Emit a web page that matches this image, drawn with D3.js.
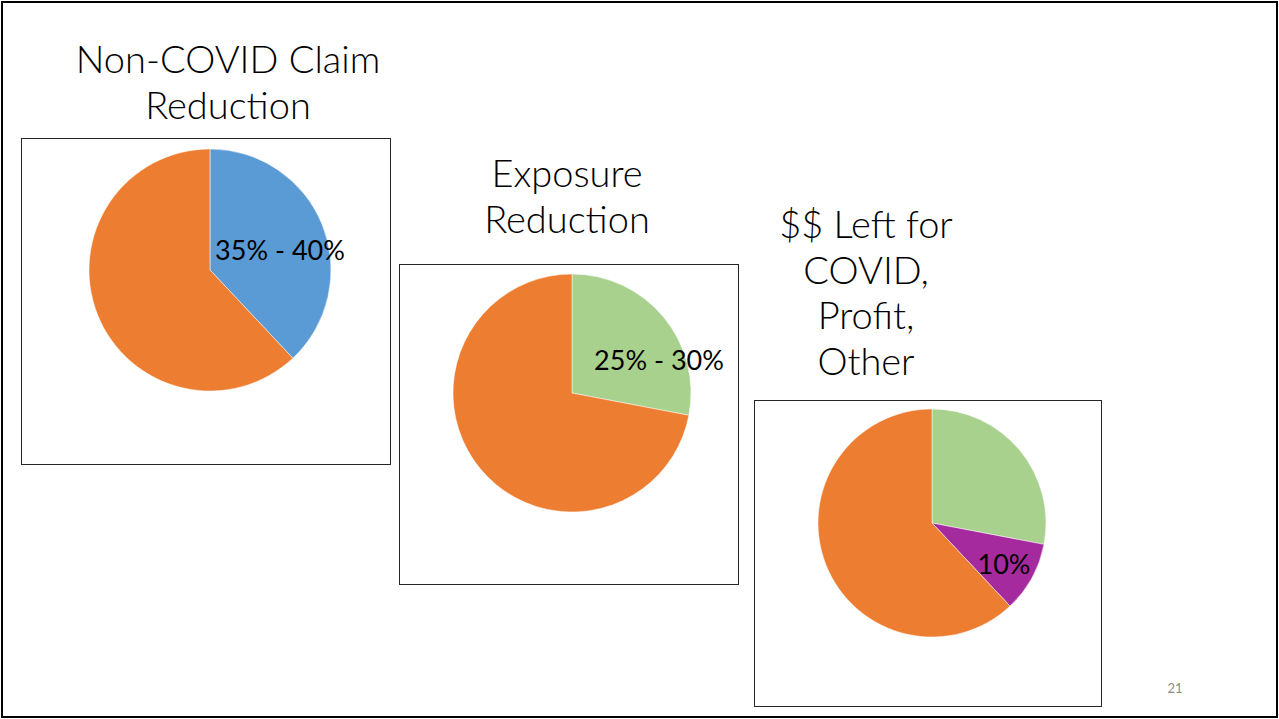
<!DOCTYPE html>
<html>
<head>
<meta charset="utf-8">
<script src="https://cdnjs.cloudflare.com/ajax/libs/d3/7.8.5/d3.min.js"></script>
<style>
  body { margin: 0; background: #fff; }
  svg { display: block; }
</style>
</head>
<body>
<div id="slide"></div>
<script>
/* Chart data */
var chartTitles = [
    ["Non-COVID Claim", "Reduction"],
    ["Exposure", "Reduction"],
    ["$$ Left for", "COVID,", "Profit,", "Other"]
];
var sliceNames = [
    ["Non-COVID claims", "Rest"],
    ["Exposure", "Rest"],
    ["Exposure", "Non-COVID claims", "Left over"]
];
var sliceValues = [
    [38, 62],
    [28, 72],
    [28, 10, 62]
];
var sliceLabels = [
    ["35% - 40%", ""],
    ["25% - 30%", ""],
    ["", "10%", ""]
];
var sliceColors = [
    ["#5b9bd5", "#ed7d31"],
    ["#a9d18e", "#ed7d31"],
    ["#a9d18e", "#a52a9e", "#ed7d31"]
];
var pageNumber = "21";

/* Layout of each panel: box, pie centre/radius, title position */
var panels = [
    {box: [21, 138, 369, 326], cx: 210, cy: 270, r: 121, tx: 228, ty: 73, label: [280, 260]},
    {box: [399, 264, 339, 320], cx: 572, cy: 393, r: 119, tx: 567, ty: 187, label: [659, 370]},
    {box: [754, 400, 347, 306], cx: 932, cy: 523, r: 114, tx: 866, ty: 238, label: [1004, 574]}
];

var width = 1279, height = 719;
var titleFont = "Lato, 'Open Sans', sans-serif";

var svg = d3.select('#slide')
    .append('svg')
    .attr('width', width)
    .attr('height', height);

// slide frame
svg.append('rect')
    .attr('x', 2)
    .attr('y', 2)
    .attr('width', width - 4)
    .attr('height', height - 4)
    .attr('fill', '#fff')
    .attr('stroke', '#000')
    .attr('stroke-width', 2);

var pie = d3.pie().sort(null).value(function(d){ return d; });

panels.forEach(function(p, i){
    var g = svg.append('g');

    // chart box
    g.append('rect')
        .attr('x', p.box[0] + 0.5)
        .attr('y', p.box[1] + 0.5)
        .attr('width', p.box[2])
        .attr('height', p.box[3])
        .attr('fill', '#fff')
        .attr('stroke', '#262626')
        .attr('stroke-width', 1);

    // title lines
    g.selectAll('text.title')
        .data(chartTitles[i])
        .enter()
        .append('text')
        .attr('class', 'title')
        .attr('x', p.tx)
        .attr('y', function(d, k){ return p.ty + k * 45.5; })
        .attr('text-anchor', 'middle')
        .style('font-family', titleFont)
        .style('font-weight', 300)
        .style('font-size', '38px')
        .style('fill', '#000')
        .text(function(d){ return d; });

    var arc = d3.arc().innerRadius(0).outerRadius(p.r);
    var color = d3.scaleOrdinal().domain(sliceNames[i]).range(sliceColors[i]);

    var pg = g.append('g').attr('transform', 'translate(' + p.cx + ',' + p.cy + ')');
    pg.selectAll('path')
        .data(pie(sliceValues[i]))
        .enter()
        .append('path')
        .attr('d', arc)
        .attr('fill', function(d, k){ return color(sliceNames[i][k]); })
        .attr('stroke', '#fff')
        .attr('stroke-width', 0.5);

    // data label
    var lab = sliceLabels[i].filter(function(t){ return t !== ""; })[0];
    g.append('text')
        .attr('x', p.label[0])
        .attr('y', p.label[1])
        .attr('text-anchor', 'middle')
        .style('font-family', titleFont)
        .style('font-size', '27px')
        .style('fill', '#000')
        .text(lab);
});

// page number
svg.append('text')
    .attr('x', 1175)
    .attr('y', 693)
    .attr('text-anchor', 'middle')
    .style('font-family', titleFont)
    .style('font-size', '13px')
    .style('fill', '#8c8c8c')
    .text(pageNumber);
</script>
</body>
</html>
